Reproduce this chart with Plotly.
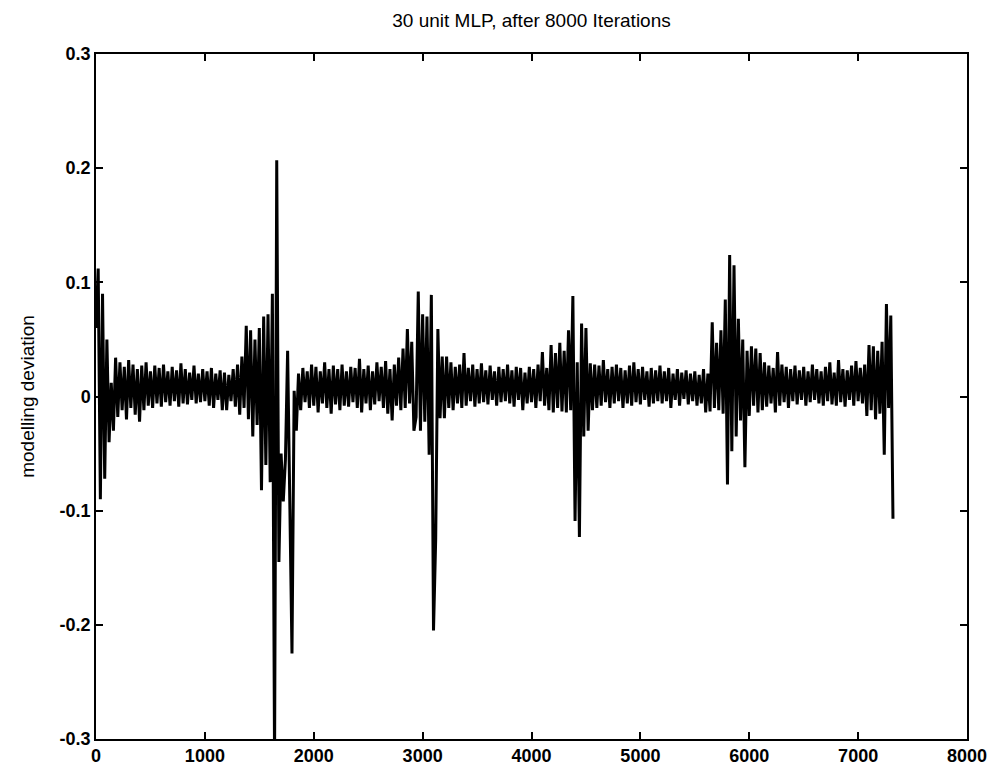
import plotly.graph_objects as go

# sample spacing of the read-off series (iterations between samples)
step = 20

# modelling deviation, every 20 iterations (0 .. 7320)
deviation = [
    0.06, 0.112, -0.09, 0.09, -0.072, 0.05, -0.04, 0.012, -0.03, 0.034,
    -0.018, 0.03, -0.012, 0.026, -0.02, 0.032, -0.01, 0.028, -0.016, 0.024,
    -0.022, 0.027, -0.012, 0.03, -0.008, 0.022, -0.01, 0.027, -0.006, 0.025,
    -0.009, 0.028, -0.005, 0.022, -0.008, 0.026, -0.004, 0.023, -0.009, 0.029,
    -0.006, 0.024, -0.007, 0.021, -0.003, 0.027, -0.006, 0.02, -0.005, 0.024,
    -0.004, 0.022, -0.008, 0.025, -0.01, 0.02, -0.003, 0.023, -0.012, 0.021,
    -0.012, 0.019, -0.004, 0.024, -0.009, 0.028, -0.016, 0.035, -0.01, 0.062,
    -0.02, 0.058, -0.035, 0.05, -0.025, 0.06, -0.082, 0.07, -0.06, 0.072,
    -0.075, 0.09, -0.32, 0.207, -0.145, -0.05, -0.092, -0.055, 0.04, -0.08,
    -0.225, 0.005, -0.03, 0.02, -0.012, 0.025, -0.005, 0.022, -0.01, 0.028,
    -0.008, 0.026, -0.014, 0.022, -0.006, 0.03, -0.01, 0.024, -0.015, 0.027,
    -0.007, 0.024, -0.012, 0.028, -0.008, 0.022, -0.009, 0.026, -0.005, 0.025,
    -0.01, 0.033, -0.014, 0.024, -0.006, 0.027, -0.012, 0.022, -0.007, 0.03,
    -0.004, 0.026, -0.01, 0.031, -0.015, 0.024, -0.021, 0.028, -0.008, 0.034,
    -0.012, 0.042, -0.01, 0.059, -0.006, 0.048, -0.03, -0.018, 0.092, -0.03,
    0.072, -0.022, 0.07, -0.051, 0.089, -0.205, -0.125, 0.059, -0.019, 0.035,
    -0.019, 0.035, -0.01, 0.03, -0.012, 0.026, -0.006, 0.028, -0.01, 0.038,
    -0.008, 0.025, -0.004, 0.028, -0.009, 0.024, -0.006, 0.029, -0.005, 0.023,
    -0.007, 0.027, -0.003, 0.022, -0.008, 0.026, -0.005, 0.024, -0.004, 0.028,
    -0.006, 0.023, -0.009, 0.026, -0.003, 0.025, -0.012, 0.021, -0.006, 0.026,
    -0.005, 0.024, -0.01, 0.028, -0.004, 0.039, -0.008, 0.025, -0.012, 0.045,
    -0.014, 0.038, -0.01, 0.047, -0.013, 0.04, -0.014, 0.058, -0.012, 0.088,
    -0.109, 0.03, -0.123, 0.064, -0.035, 0.06, -0.03, 0.029, -0.012, 0.028,
    -0.01, 0.027, -0.008, 0.032, -0.005, 0.024, -0.01, 0.026, -0.006, 0.028,
    -0.004, 0.025, -0.01, 0.023, -0.006, 0.027, -0.008, 0.03, -0.005, 0.024,
    -0.007, 0.026, -0.003, 0.022, -0.009, 0.025, -0.006, 0.023, -0.004, 0.027,
    -0.006, 0.022, -0.004, 0.025, -0.01, 0.02, -0.003, 0.024, -0.008, 0.021,
    -0.002, 0.023, -0.007, 0.02, -0.004, 0.022, -0.008, 0.019, -0.006, 0.024,
    -0.014, 0.02, -0.013, 0.065, -0.01, 0.047, -0.012, 0.058, -0.015, 0.085,
    -0.077, 0.124, -0.048, 0.115, -0.035, 0.068, -0.021, 0.05, -0.062, 0.04,
    -0.017, 0.044, -0.008, 0.042, -0.014, 0.038, -0.012, 0.03, -0.009, 0.027,
    -0.006, 0.025, -0.014, 0.039, -0.008, 0.028, -0.005, 0.026, -0.01, 0.024,
    -0.004, 0.027, -0.007, 0.023, -0.003, 0.026, -0.008, 0.022, -0.005, 0.028,
    -0.003, 0.024, -0.006, 0.022, -0.008, 0.026, -0.004, 0.03, -0.007, 0.021,
    -0.008, 0.032, -0.005, 0.024, -0.009, 0.023, -0.003, 0.027, -0.008, 0.031,
    -0.004, 0.025, -0.006, 0.028, -0.017, 0.045, -0.012, 0.044, -0.02, 0.04,
    -0.015, 0.048, -0.051, 0.081, -0.01, 0.071, -0.107,
]

x_ticks = [0, 1000, 2000, 3000, 4000, 5000, 6000, 7000, 8000]
y_ticks = [-0.3, -0.2, -0.1, 0, 0.1, 0.2, 0.3]
y_tick_text = ["-0.3", "-0.2", "-0.1", "0", "0.1", "0.2", "0.3"]

iterations = [i * step for i in range(len(deviation))]

fig = go.Figure()
fig.add_trace(go.Scatter(
    x=iterations,
    y=deviation,
    mode="lines",
    line=dict(color="black", width=3),
    showlegend=False,
    hoverinfo="skip",
))

font_family = "Liberation Sans, Arial, sans-serif"
tick_font = dict(family=font_family, size=18, color="black", weight="bold")

fig.update_layout(
    width=997,
    height=767,
    margin=dict(l=88, r=38, t=46, b=36),
    paper_bgcolor="white",
    plot_bgcolor="white",
    title=dict(
        text="30 unit MLP, after 8000 Iterations",
        x=0.5 + (88 - 38) / 2 / 997,
        xanchor="center",
        y=0.993,
        yanchor="top",
        font=dict(family=font_family, size=19, color="black"),
    ),
    xaxis=dict(
        range=[0, 8000],
        tickvals=x_ticks,
        ticks="inside",
        ticklen=7,
        tickwidth=1.5,
        tickcolor="black",
        showline=True,
        linecolor="black",
        linewidth=1.5,
        mirror="ticks",
        showgrid=False,
        zeroline=False,
        tickfont=tick_font,
        automargin=False,
    ),
    yaxis=dict(
        range=[-0.3, 0.3],
        tickvals=y_ticks,
        ticktext=y_tick_text,
        ticks="inside",
        ticklen=7,
        tickwidth=1.5,
        tickcolor="black",
        showline=True,
        linecolor="black",
        linewidth=1.5,
        mirror="ticks",
        showgrid=False,
        zeroline=False,
        tickfont=tick_font,
        title=dict(
            text="modelling deviation",
            font=dict(family=font_family, size=19, color="black"),
            standoff=20,
        ),
        automargin=False,
    ),
)

fig.write_html("out.html")
